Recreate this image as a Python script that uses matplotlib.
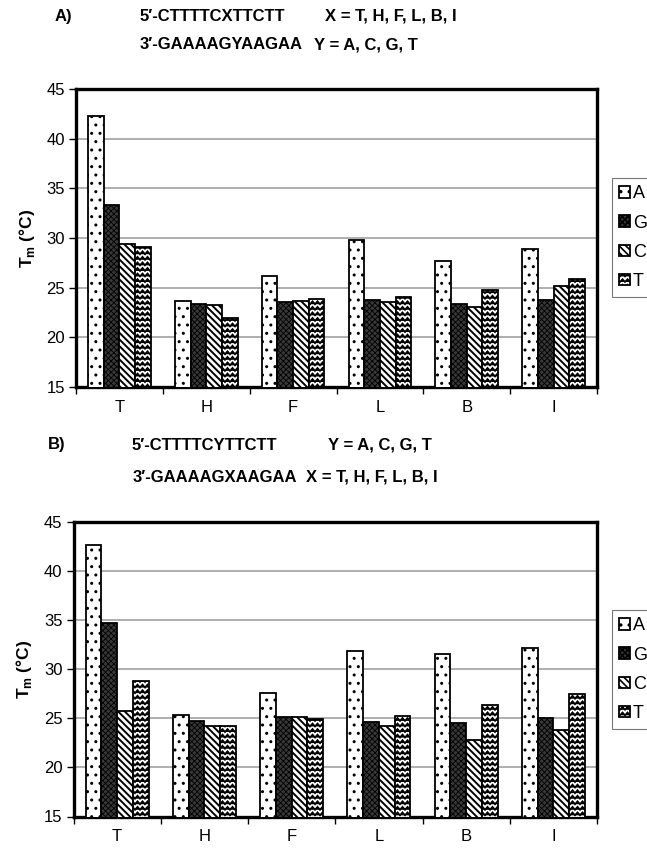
"""Tm of the modified triplex/duplex sets, panels A and B, Excel-style hatched bars."""
import warnings

import numpy as np
import matplotlib
matplotlib.use("Agg")
import matplotlib.pyplot as plt
import matplotlib.hatch as mhatch
from matplotlib.path import Path

CATEGORIES = ["T", "H", "F", "L", "B", "I"]
SERIES = ["A", "G", "C", "T"]

# panel A: 5'-CTTTTCXTTCTT / 3'-GAAAAGYAAGAA
TM_A_A = [42.3, 23.7, 26.2, 29.8, 27.7, 28.9]
TM_A_G = [33.3, 23.4, 23.6, 23.8, 23.4, 23.8]
TM_A_C = [29.4, 23.3, 23.7, 23.6, 23.1, 25.2]
TM_A_T = [29.1, 21.9, 23.9, 24.1, 24.8, 25.9]

# panel B: 5'-CTTTTCYTTCTT / 3'-GAAAAGXAAGAA
TM_B_A = [42.6, 25.3, 27.6, 31.8, 31.5, 32.1]
TM_B_G = [34.7, 24.7, 25.1, 24.6, 24.5, 25.0]
TM_B_C = [25.7, 24.2, 25.1, 24.2, 22.8, 23.8]
TM_B_T = [28.8, 24.2, 24.9, 25.2, 26.3, 27.5]

YTICKS = [15, 20, 25, 30, 35, 40, 45]

W, H = 647, 850
FONT = ["Liberation Sans", "DejaVu Sans"]


class ZigzagHatch(mhatch.HatchPatternBase):
    """horizontal zigzag lines, selected with 'z' in the hatch string"""

    def __init__(self, hatch, density):
        self.num_lines = int(hatch.count("z") * density)
        self.num_teeth = 20
        self.num_vertices = self.num_lines * (2 * self.num_teeth + 1)

    def set_vertices_and_codes(self, vertices, codes):
        n = 2 * self.num_teeth + 1
        xs = np.linspace(0, 1, n)
        amp = 0.26 / self.num_lines
        wave = np.where(np.arange(n) % 2 == 0, -amp, amp)
        for i in range(self.num_lines):
            s = (i + 0.5) / self.num_lines
            vertices[i * n:(i + 1) * n, 0] = xs
            vertices[i * n:(i + 1) * n, 1] = s + wave
            codes[i * n] = Path.MOVETO
            codes[i * n + 1:(i + 1) * n] = Path.LINETO


mhatch._hatch_types.append(ZigzagHatch)
warnings.filterwarnings("ignore", category=matplotlib.MatplotlibDeprecationWarning)
plt.rcParams["hatch.linewidth"] = 1.2

STYLES = {
    "A": dict(facecolor="white", hatch="..", hlw=1.0),
    "G": dict(facecolor="#383838", hatch="xxxxxx", hlw=0.6),
    "C": dict(facecolor="white", hatch="\\\\\\\\\\", hlw=1.4),
    "T": dict(facecolor="white", hatch="zzz", hlw=1.3),
}


def fx(px):
    return px / W


def fy(py):
    return 1 - py / H


def draw_panel(ax, values):
    x = np.arange(len(CATEGORIES))
    width = 0.18
    handles = []
    for k, name in enumerate(SERIES):
        st = STYLES[name]
        bars = ax.bar(x + (k - 1.5) * width, values[k], width,
                      color=st["facecolor"], edgecolor="black",
                      linewidth=1.3, hatch=st["hatch"], label=name, zorder=3)
        for b in bars:
            if hasattr(b, "set_hatch_linewidth"):
                b.set_hatch_linewidth(st["hlw"])
        handles.append(bars)

    ax.set_xlim(-0.5, len(CATEGORIES) - 0.5)
    ax.set_ylim(15, 45)
    ax.set_yticks(YTICKS)
    ax.set_xticks(x)
    ax.set_xticklabels(CATEGORIES, fontsize=12, family=FONT)
    ax.set_xticks(np.arange(len(CATEGORIES) + 1) - 0.5, minor=True)
    ax.tick_params(axis="x", which="major", length=0, pad=9)
    ax.tick_params(axis="x", which="minor", length=5, width=1, direction="out")
    ax.tick_params(axis="y", length=5, width=1, direction="out", pad=3, labelsize=12)
    for lab in ax.get_yticklabels():
        lab.set_family(FONT)
    ax.yaxis.grid(True, color="#999999", linewidth=1.1, zorder=0)
    ax.set_axisbelow(True)
    for sp in ax.spines.values():
        sp.set_linewidth(2.4)
        sp.set_color("black")
    ax.set_ylabel(r"T$_\mathregular{m}$ (°C)", fontsize=12.5, fontweight="bold",
                  family=FONT, labelpad=7)
    return handles


def main():
    fig = plt.figure(figsize=(W / 100, H / 100), dpi=100)
    ax_a = fig.add_axes([fx(76), fy(387), fx(597) - fx(76), fy(89) - fy(387)])
    ax_b = fig.add_axes([fx(73.5), fy(816.5), fx(597) - fx(73.5), fy(521.5) - fy(816.5)])

    h_a = draw_panel(ax_a, [TM_A_A, TM_A_G, TM_A_C, TM_A_T])
    h_b = draw_panel(ax_b, [TM_B_A, TM_B_G, TM_B_C, TM_B_T])

    for handles, top in ((h_a, 178), (h_b, 610)):
        leg = fig.legend(handles, SERIES, loc="upper left",
                         bbox_to_anchor=(fx(612), fy(top)),
                         prop={"family": FONT, "size": 13}, frameon=True,
                         fancybox=False, edgecolor="#777777", framealpha=1,
                         handlelength=0.6, handleheight=0.6, handletextpad=0.15,
                         labelspacing=0.68, borderpad=0.4, borderaxespad=0)
        leg.get_frame().set_linewidth(0.8)

    tkw = dict(fontsize=12, fontweight="bold", family=FONT, va="center", ha="left")
    fig.text(fx(55), fy(16.3), "A)", **tkw)
    fig.text(fx(140), fy(16.3), "5\u2032-CTTTTCXTTCTT", **tkw)
    fig.text(fx(325), fy(16.3), "X = T, H, F, L, B, I", **tkw)
    fig.text(fx(140), fy(44.5), "3\u2032-GAAAAGYAAGAA", **tkw)
    fig.text(fx(314), fy(44.5), "Y = A, C, G, T", **tkw)

    fig.text(fx(48), fy(445), "B)", **tkw)
    fig.text(fx(132), fy(445), "5\u2032-CTTTTCYTTCTT", **tkw)
    fig.text(fx(328), fy(445), "Y = A, C, G, T", **tkw)
    fig.text(fx(133), fy(477), "3\u2032-GAAAAGXAAGAA", **tkw)
    fig.text(fx(306), fy(477), "X = T, H, F, L, B, I", **tkw)

    fig.savefig("out.png", dpi=100)


if __name__ == "__main__":
    main()
